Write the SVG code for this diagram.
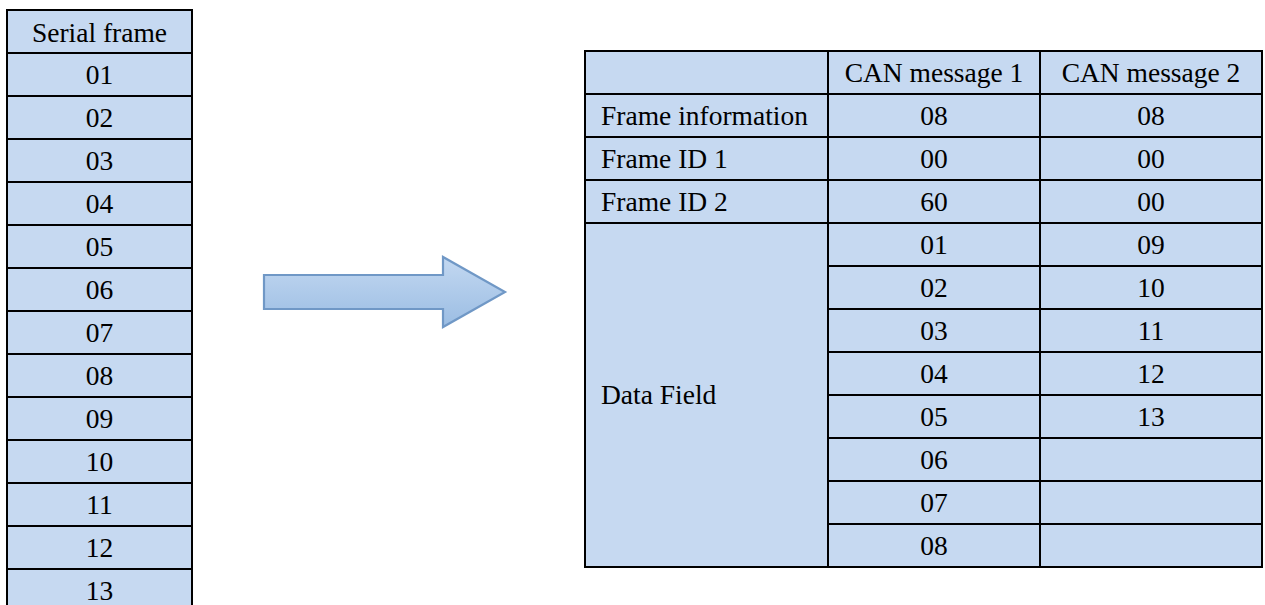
<svg xmlns="http://www.w3.org/2000/svg" width="1265" height="605" viewBox="0 0 1265 605">
<style>
.c{fill:#c6d9f1;stroke:#000;stroke-width:2}
.t{font-family:"Liberation Serif","Times New Roman",serif;font-size:27.5px;fill:#000}
.m{text-anchor:middle}
</style>
<defs>
<linearGradient id="ag" x1="0" y1="0" x2="0" y2="1">
<stop offset="0" stop-color="#c3d8f1"/>
<stop offset="1" stop-color="#9bbde3"/>
</linearGradient>
</defs>
<rect width="1265" height="605" fill="#fff"/>
<g id="serial-frame">
<rect class="c" x="7" y="10" width="185" height="43"/>
<rect class="c" x="7" y="53" width="185" height="43"/>
<rect class="c" x="7" y="96" width="185" height="43"/>
<rect class="c" x="7" y="139" width="185" height="43"/>
<rect class="c" x="7" y="182" width="185" height="43"/>
<rect class="c" x="7" y="225" width="185" height="43"/>
<rect class="c" x="7" y="268" width="185" height="43"/>
<rect class="c" x="7" y="311" width="185" height="43"/>
<rect class="c" x="7" y="354" width="185" height="43"/>
<rect class="c" x="7" y="397" width="185" height="43"/>
<rect class="c" x="7" y="440" width="185" height="43"/>
<rect class="c" x="7" y="483" width="185" height="43"/>
<rect class="c" x="7" y="526" width="185" height="43"/>
<rect class="c" x="7" y="569" width="185" height="43"/>
<text class="t m" x="99.5" y="42">Serial frame</text>
<text class="t m" x="99.5" y="84">01</text>
<text class="t m" x="99.5" y="127">02</text>
<text class="t m" x="99.5" y="170">03</text>
<text class="t m" x="99.5" y="213">04</text>
<text class="t m" x="99.5" y="256">05</text>
<text class="t m" x="99.5" y="299">06</text>
<text class="t m" x="99.5" y="342">07</text>
<text class="t m" x="99.5" y="385">08</text>
<text class="t m" x="99.5" y="428">09</text>
<text class="t m" x="99.5" y="471">10</text>
<text class="t m" x="99.5" y="514">11</text>
<text class="t m" x="99.5" y="557">12</text>
<text class="t m" x="99.5" y="600">13</text>
</g>
<g id="connectors">
<path d="M264,275 L443,275 L443,257 L505,292 L443,327 L443,309 L264,309 Z" fill="url(#ag)" stroke="#7098c6" stroke-width="2.2" stroke-linejoin="miter"/>
</g>
<g id="can-messages">
<rect class="c" x="585" y="51" width="243" height="43"/>
<rect class="c" x="828" y="51" width="212" height="43"/>
<rect class="c" x="1040" y="51" width="222" height="43"/>
<rect class="c" x="585" y="94" width="243" height="43"/>
<rect class="c" x="828" y="94" width="212" height="43"/>
<rect class="c" x="1040" y="94" width="222" height="43"/>
<rect class="c" x="585" y="137" width="243" height="43"/>
<rect class="c" x="828" y="137" width="212" height="43"/>
<rect class="c" x="1040" y="137" width="222" height="43"/>
<rect class="c" x="585" y="180" width="243" height="43"/>
<rect class="c" x="828" y="180" width="212" height="43"/>
<rect class="c" x="1040" y="180" width="222" height="43"/>
<rect class="c" x="585" y="223" width="243" height="344"/>
<rect class="c" x="828" y="223" width="212" height="43"/>
<rect class="c" x="1040" y="223" width="222" height="43"/>
<rect class="c" x="828" y="266" width="212" height="43"/>
<rect class="c" x="1040" y="266" width="222" height="43"/>
<rect class="c" x="828" y="309" width="212" height="43"/>
<rect class="c" x="1040" y="309" width="222" height="43"/>
<rect class="c" x="828" y="352" width="212" height="43"/>
<rect class="c" x="1040" y="352" width="222" height="43"/>
<rect class="c" x="828" y="395" width="212" height="43"/>
<rect class="c" x="1040" y="395" width="222" height="43"/>
<rect class="c" x="828" y="438" width="212" height="43"/>
<rect class="c" x="1040" y="438" width="222" height="43"/>
<rect class="c" x="828" y="481" width="212" height="43"/>
<rect class="c" x="1040" y="481" width="222" height="43"/>
<rect class="c" x="828" y="524" width="212" height="43"/>
<rect class="c" x="1040" y="524" width="222" height="43"/>
<text class="t m" x="934" y="82">CAN message 1</text>
<text class="t m" x="1151" y="82">CAN message 2</text>
<text class="t" x="601" y="125">Frame information</text>
<text class="t" x="601" y="168">Frame ID 1</text>
<text class="t" x="601" y="211">Frame ID 2</text>
<text class="t" x="601" y="404">Data Field</text>
<text class="t m" x="934" y="125">08</text>
<text class="t m" x="934" y="168">00</text>
<text class="t m" x="934" y="211">60</text>
<text class="t m" x="934" y="254">01</text>
<text class="t m" x="934" y="297">02</text>
<text class="t m" x="934" y="340">03</text>
<text class="t m" x="934" y="383">04</text>
<text class="t m" x="934" y="426">05</text>
<text class="t m" x="934" y="469">06</text>
<text class="t m" x="934" y="512">07</text>
<text class="t m" x="934" y="555">08</text>
<text class="t m" x="1151" y="125">08</text>
<text class="t m" x="1151" y="168">00</text>
<text class="t m" x="1151" y="211">00</text>
<text class="t m" x="1151" y="254">09</text>
<text class="t m" x="1151" y="297">10</text>
<text class="t m" x="1151" y="340">11</text>
<text class="t m" x="1151" y="383">12</text>
<text class="t m" x="1151" y="426">13</text>
</g>
</svg>
